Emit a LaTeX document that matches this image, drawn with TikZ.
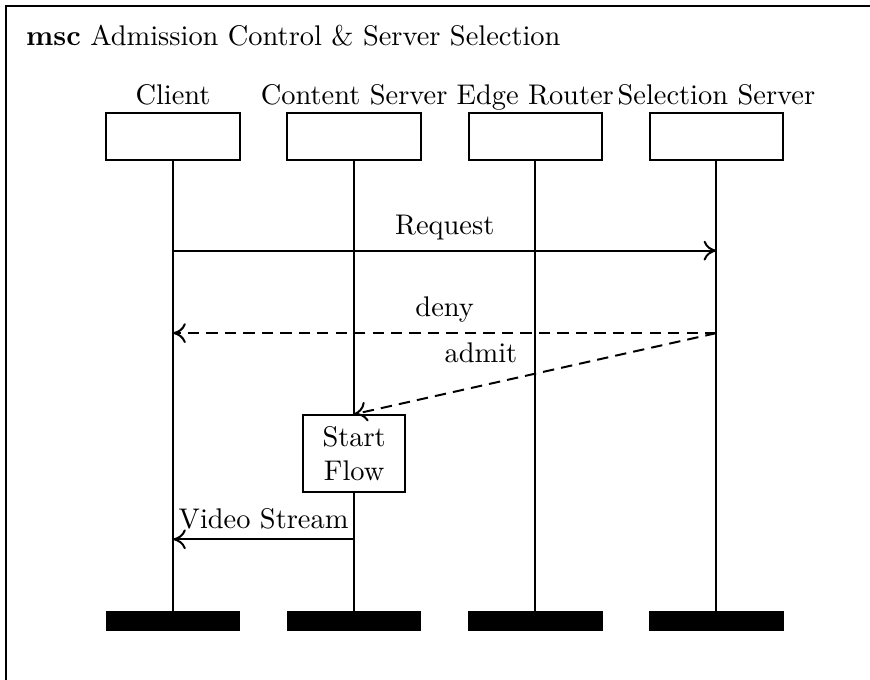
\documentclass[tikz,border=0pt]{standalone}
\usetikzlibrary{positioning,arrows.meta}
\begin{document}
\begin{tikzpicture}
	\tikzstyle{Head} = [rectangle, minimum width=1.65cm, minimum height=0.58cm, draw=black, line width=0.7pt]
	\tikzstyle{Foot} = [rectangle, minimum width=1.65cm, minimum height=0.22cm, draw=black, fill=black]
	\tikzstyle{Name} = [text height=1.6ex, text depth=0.5ex, inner sep=0.333em]
	\tikzstyle{Action} = [rectangle, minimum width=1.27cm, minimum height=0.95cm, align=center, draw=black, line width=0.7pt, fill=white]
	\tikzstyle{arrow} = [line width=0.7pt,-{To[length=4.5pt,width=7pt]}]
	\tikzstyle{reply} = [dash pattern=on 4pt off 2.5pt]
	
	\useasboundingbox (0,0) rectangle (10.76,-8.41);
	\draw [line width=0.7pt, black] (0.07,-9) -- (0.07,-0.08) -- (11.5,-0.08);
	\node (title) [anchor=base west] at (0.2,-0.56) {\textbf{msc} Admission Control \& Server Selection};
	
	\node (client) [Head] at (2.14,-1.69) {};
	\node (content) [Head] at (4.38,-1.69) {};
	\node (router) [Head] at (6.62,-1.69) {};
	\node (selection) [Head] at (8.86,-1.69) {};
	\node (clientName) [Name, above=-0.1cm of client] {Client};
	\node (contentName) [Name, above=-0.1cm of content] {Content Server};
	\node (routerName) [Name, above=-0.1cm of router] {Edge Router};
	\node (selectionName) [Name, above=-0.1cm of selection] {Selection Server};
	
	\node (clientEnd) [Foot] at (2.14,-7.68) {};
	\node (contentEnd) [Foot] at (4.38,-7.68) {};
	\node (routerEnd) [Foot] at (6.62,-7.68) {};
	\node (selectionEnd) [Foot] at (8.86,-7.68) {};
	
	\draw [line width=0.7pt] (client) -- (clientEnd);
	\draw [line width=0.7pt] (content) -- (contentEnd);
	\draw [line width=0.7pt] (router) -- (routerEnd);
	\draw [line width=0.7pt] (selection) -- (selectionEnd);
	
	\coordinate (request) at (0,-3.10);
	\coordinate (deny) at (0,-4.12);
	\coordinate (video) at (0,-6.67);
	
	\node (flow) [Action] at (4.38,-5.61) {Start\\Flow};
	
	\draw [arrow] (client |- request) -- node [above] {Request} (selection |- request);
	\draw [arrow, reply] (selection |- deny) -- node [above] {deny} (client |- deny);
	\draw [arrow, reply] (selection |- deny) -- node [pos=0.65, above=0.15cm] {admit} (flow.north);
	\draw [arrow] (content |- video) -- node [above] {Video Stream} (client |- video);
\end{tikzpicture}
\end{document}
